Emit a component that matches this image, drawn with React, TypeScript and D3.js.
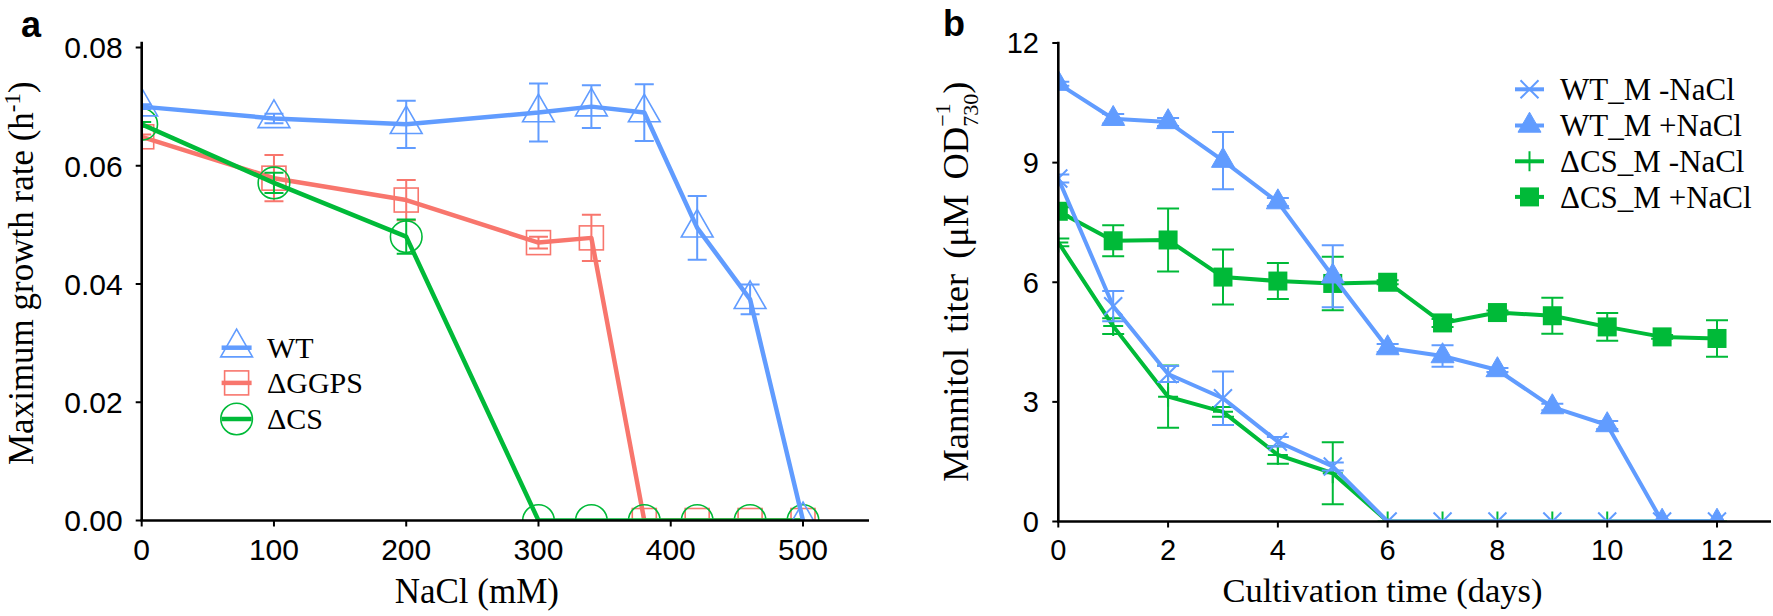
import React from 'react';
import * as d3 from 'd3';

// ---------- Panel a data ----------
const nacl = [0, 100, 200, 300, 340, 380, 420, 460, 500];
const wtRate = [0.07, 0.068, 0.067, 0.069, 0.070, 0.069, 0.0495, 0.0374, 0];
const wtErr = [0.0004, 0.0008, 0.004, 0.0049, 0.0036, 0.0048, 0.0054, 0.0025, 0];
const ggpsRate = [0.0649, 0.0579, 0.0542, 0.047, 0.0478, 0, 0, 0, 0];
const ggpsErr = [0.0004, 0.0039, 0.0034, 0.001, 0.0039, 0, 0, 0, 0];
const csRate = [0.067, 0.0571, 0.048, 0, 0, 0, 0, 0, 0];
const csErr = [0.0004, 0.0017, 0.0029, 0, 0, 0, 0, 0, 0];
const aXTicks = [0, 100, 200, 300, 400, 500];
const aYTicks = [0, 0.02, 0.04, 0.06, 0.08];
const aLegend = ['WT', 'ΔGGPS', 'ΔCS'];

// ---------- Panel b data ----------
const days = [0, 1, 2, 3, 4, 5, 6, 7, 8, 9, 10, 11, 12];
const wtMinus = [8.6, 5.4, 3.7, 3.09, 2.0, 1.38, 0, 0, 0, 0, 0, 0, 0];
const wtMinusErr = [0.1, 0.38, 0.2, 0.67, 0.12, 0.1, 0, 0, 0, 0, 0, 0, 0];
const wtPlus = [10.98, 10.1, 10.02, 9.05, 8.01, 6.15, 4.35, 4.15, 3.8, 2.87, 2.42, 0, 0];
const wtPlusErr = [0.05, 0.12, 0.1, 0.72, 0.1, 0.78, 0.1, 0.27, 0.05, 0.08, 0.1, 0, 0];
const csMinus = [7.0, 4.9, 3.13, 2.75, 1.67, 1.21, 0, 0, 0, 0, 0, 0, 0];
const csMinusErr = [0.1, 0.2, 0.78, 0.12, 0.22, 0.78, 0, 0, 0, 0, 0, 0, 0];
const csPlus = [7.78, 7.04, 7.06, 6.13, 6.03, 5.97, 6.0, 4.98, 5.24, 5.16, 4.88, 4.63, 4.59];
const csPlusErr = [0.1, 0.39, 0.79, 0.69, 0.45, 0.67, 0.05, 0.1, 0.05, 0.45, 0.35, 0.05, 0.46];
const bXTicks = [0, 2, 4, 6, 8, 10, 12];
const bYTicks = [0, 3, 6, 9, 12];
const bLegend = ['WT_M -NaCl', 'WT_M +NaCl', 'ΔCS_M -NaCl', 'ΔCS_M +NaCl'];

const BLUE = '#619CFF';
const RED = '#F8766D';
const GREEN = '#00BA38';
const SERIF = '"Liberation Serif","Times New Roman",serif';
const SANS = '"Liberation Sans",Arial,sans-serif';

type MType = 'otri' | 'ocirc' | 'osq' | 'ftri' | 'fsq' | 'x' | 'plus';

function Marker({ t, x, y, c }: { t: MType; x: number; y: number; c: string }) {
  switch (t) {
    case 'otri':
      return <path d={`M${x},${y - 18.5}L${x + 15.9},${y + 9.2}L${x - 15.9},${y + 9.2}Z`} fill="none" stroke={c} strokeWidth={1.6} />;
    case 'ocirc':
      return <circle cx={x} cy={y} r={15.8} fill="none" stroke={c} strokeWidth={1.6} />;
    case 'osq':
      return <rect x={x - 12} y={y - 12} width={24} height={24} fill="none" stroke={c} strokeWidth={1.6} />;
    case 'ftri':
      return <path d={`M${x},${y - 13.3}L${x + 11.5},${y + 6.7}L${x - 11.5},${y + 6.7}Z`} fill={c} stroke={c} strokeWidth={1} />;
    case 'fsq':
      return <rect x={x - 9.5} y={y - 9.5} width={19} height={19} fill={c} />;
    case 'x':
      return <path d={`M${x - 9},${y - 9}L${x + 9},${y + 9}M${x - 9},${y + 9}L${x + 9},${y - 9}`} stroke={c} strokeWidth={2} fill="none" />;
    case 'plus':
      return <path d={`M${x - 10},${y}L${x + 10},${y}M${x},${y - 10}L${x},${y + 10}`} stroke={c} strokeWidth={2} fill="none" />;
  }
  return null;
}

function Series({ xs, ys, es, xScale, yScale, color, marker, lw, cap }: any) {
  const pts = xs.map((v: number, i: number) => [xScale(v), yScale(ys[i])] as [number, number]);
  const line = d3.line()(pts) || '';
  return (
    <g>
      <path d={line} fill="none" stroke={color} strokeWidth={lw} strokeLinejoin="round" />
      {xs.map((v: number, i: number) => {
        if (!es[i]) return null;
        const x = xScale(v);
        const y1 = yScale(ys[i] + es[i]);
        const y2 = yScale(ys[i] - es[i]);
        return (
          <path key={'e' + i} d={`M${x},${y1}L${x},${y2}M${x - cap / 2},${y1}L${x + cap / 2},${y1}M${x - cap / 2},${y2}L${x + cap / 2},${y2}`} stroke={color} strokeWidth={2} fill="none" />
        );
      })}
      {pts.map((p: [number, number], i: number) => (
        <Marker key={'m' + i} t={marker} x={p[0]} y={p[1]} c={color} />
      ))}
    </g>
  );
}

export default function App() {
  const xa = d3.scaleLinear().domain([0, 500]).range([141.7, 803]);
  const ya = d3.scaleLinear().domain([0, 0.08]).range([520.5, 47.5]);
  const xb = d3.scaleLinear().domain([0, 12]).range([1058.3, 1717]);
  const yb = d3.scaleLinear().domain([0, 12]).range([521.5, 43]);

  const aAxisY = ya(0);
  const bAxisY = yb(0);

  const aSeries = [
    { ys: ggpsRate, es: ggpsErr, color: RED, marker: 'osq' },
    { ys: csRate, es: csErr, color: GREEN, marker: 'ocirc' },
    { ys: wtRate, es: wtErr, color: BLUE, marker: 'otri' },
  ];
  const aLegMarkers: MType[] = ['otri', 'osq', 'ocirc'];
  const aLegColors = [BLUE, RED, GREEN];
  const aLegY = [347.7, 382.9, 419];

  const bSeries = [
    { ys: csPlus, es: csPlusErr, color: GREEN, marker: 'fsq' },
    { ys: csMinus, es: csMinusErr, color: GREEN, marker: 'plus' },
    { ys: wtPlus, es: wtPlusErr, color: BLUE, marker: 'ftri' },
    { ys: wtMinus, es: wtMinusErr, color: BLUE, marker: 'x' },
  ];
  const bLegMarkers: MType[] = ['x', 'ftri', 'plus', 'fsq'];
  const bLegColors = [BLUE, BLUE, GREEN, GREEN];
  const bLegY = [89.3, 125.5, 161.3, 196.9];

  return (
    <svg width={1773} height={616} style={{ position: 'absolute', left: 0, top: 0, background: '#fff' }}>
      <defs>
        <clipPath id="clipA">
          <rect x={xa(0)} y={0} width={900} height={aAxisY} />
        </clipPath>
        <clipPath id="clipB">
          <rect x={xb(0)} y={0} width={800} height={bAxisY} />
        </clipPath>
      </defs>
      <rect x={0} y={0} width={1773} height={616} fill="#fff" />

      {/* ---------------- Panel a ---------------- */}
      <text x={21} y={36.5} fontFamily={SANS} fontWeight="bold" fontSize={36}>a</text>
      <g clipPath="url(#clipA)">
        {aSeries.map((s, i) => (
          <Series key={i} xs={nacl} ys={s.ys} es={s.es} xScale={xa} yScale={ya} color={s.color} marker={s.marker} lw={4.5} cap={19} />
        ))}
      </g>
      {/* axes */}
      <line x1={xa(0)} x2={xa(0)} y1={41.7} y2={aAxisY} stroke="#000" strokeWidth={2.6} />
      <line x1={xa(0) - 1.3} x2={869} y1={aAxisY} y2={aAxisY} stroke="#000" strokeWidth={2.6} />
      {aYTicks.map((t) => (
        <g key={'ay' + t}>
          <line x1={xa(0) - 6} x2={xa(0)} y1={ya(t)} y2={ya(t)} stroke="#000" strokeWidth={2} />
          <text x={122.7} y={ya(t)} dy="0.36em" textAnchor="end" fontFamily={SANS} fontSize={30}>{t.toFixed(2)}</text>
        </g>
      ))}
      {aXTicks.map((t) => (
        <g key={'ax' + t}>
          <line x1={xa(t)} x2={xa(t)} y1={aAxisY} y2={aAxisY + 6} stroke="#000" strokeWidth={2} />
          <text x={xa(t)} y={560} textAnchor="middle" fontFamily={SANS} fontSize={30}>{t}</text>
        </g>
      ))}
      <text x={476.8} y={603} textAnchor="middle" fontFamily={SERIF} fontSize={35}>NaCl (mM)</text>
      <text transform="translate(33,465) rotate(-90)" fontFamily={SERIF} fontSize={35}>
        Maximum growth rate (h<tspan dy={-13} fontSize={23}>-1</tspan><tspan dy={13}>)</tspan>
      </text>
      {/* legend a */}
      {aLegend.map((lab, i) => (
        <g key={'la' + i}>
          <line x1={221.6} x2={251.6} y1={aLegY[i]} y2={aLegY[i]} stroke={aLegColors[i]} strokeWidth={4.5} />
          <Marker t={aLegMarkers[i]} x={236.6} y={aLegY[i]} c={aLegColors[i]} />
          <text x={267} y={aLegY[i] + 10.3} fontFamily={SERIF} fontSize={30}>{lab}</text>
        </g>
      ))}

      {/* ---------------- Panel b ---------------- */}
      <text x={943} y={36} fontFamily={SANS} fontWeight="bold" fontSize={36}>b</text>
      <g clipPath="url(#clipB)">
        {bSeries.map((s, i) => (
          <Series key={i} xs={days} ys={s.ys} es={s.es} xScale={xb} yScale={yb} color={s.color} marker={s.marker} lw={4} cap={22} />
        ))}
      </g>
      <line x1={xb(0)} x2={xb(0)} y1={41.7} y2={bAxisY} stroke="#000" strokeWidth={2.6} />
      <line x1={xb(0) - 1.3} x2={1771} y1={bAxisY} y2={bAxisY} stroke="#000" strokeWidth={2.6} />
      {bYTicks.map((t) => (
        <g key={'by' + t}>
          <line x1={xb(0) - 6} x2={xb(0)} y1={yb(t)} y2={yb(t)} stroke="#000" strokeWidth={2} />
          <text x={1039} y={yb(t)} dy="0.36em" textAnchor="end" fontFamily={SANS} fontSize={29}>{t}</text>
        </g>
      ))}
      {bXTicks.map((t) => (
        <g key={'bx' + t}>
          <line x1={xb(t)} x2={xb(t)} y1={bAxisY} y2={bAxisY + 6} stroke="#000" strokeWidth={2} />
          <text x={xb(t)} y={560} textAnchor="middle" fontFamily={SANS} fontSize={29}>{t}</text>
        </g>
      ))}
      <text x={1382.5} y={601.7} textAnchor="middle" fontFamily={SERIF} fontSize={34.5}>Cultivation time (days)</text>
      <text transform="translate(968,481.7) rotate(-90)" fontFamily={SERIF} fontSize={36.5} wordSpacing={6}>
        Mannitol titer (μM OD<tspan dy={-18} fontSize={22}>−1</tspan><tspan dx={-23.4} dy={28} fontSize={22}>730</tspan><tspan dy={-10}>)</tspan>
      </text>
      {/* legend b */}
      {bLegend.map((lab, i) => (
        <g key={'lb' + i}>
          <line x1={1515} x2={1544} y1={bLegY[i]} y2={bLegY[i]} stroke={bLegColors[i]} strokeWidth={4} />
          <Marker t={bLegMarkers[i]} x={1529.5} y={bLegY[i]} c={bLegColors[i]} />
          <text x={1560} y={bLegY[i] + 10.7} fontFamily={SERIF} fontSize={31}>{lab}</text>
        </g>
      ))}
    </svg>
  );
}
